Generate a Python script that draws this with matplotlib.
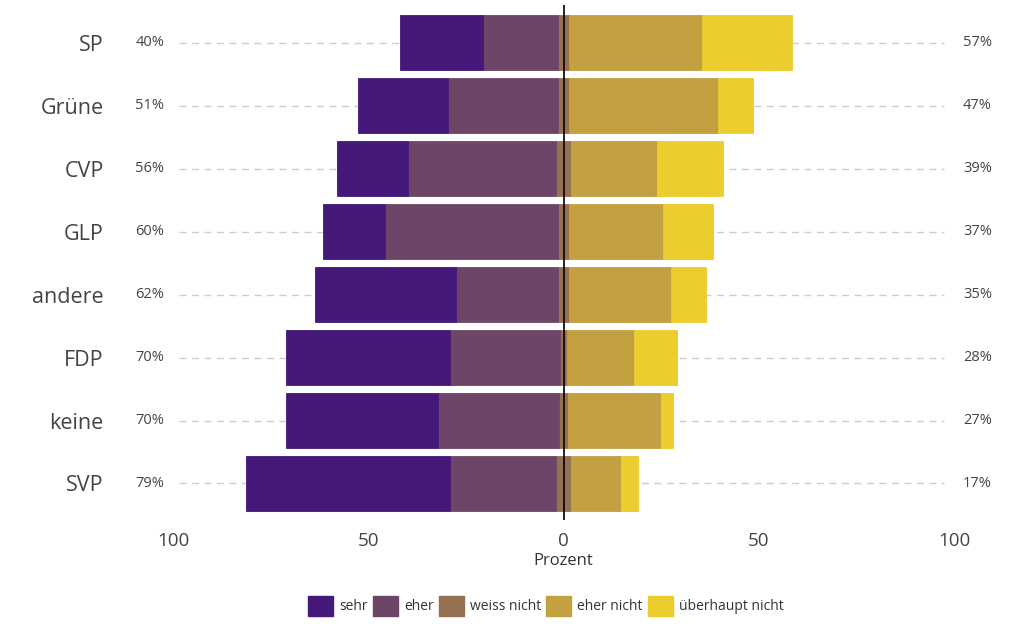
#!/usr/bin/env python3

import numpy as np
import matplotlib
matplotlib.use('Agg')
import matplotlib.pyplot as plt
from matplotlib.patches import Patch

# parties from top to bottom
parties = ['SP', 'Grüne', 'CVP', 'GLP', 'andere', 'FDP', 'keine', 'SVP']
sehr = [21.1, 23.1, 18.2, 15.9, 36.0, 42.0, 39.1, 52.2]
eher = [19.2, 28.2, 37.9, 44.2, 26.2, 28.1, 31.0, 27.1]
weiss_nicht = [2.9, 2.9, 3.9, 2.9, 2.9, 2.0, 2.1, 3.9]
eher_nicht = [34.1, 38.1, 22.1, 24.0, 26.0, 17.0, 23.9, 12.9]
ueberhaupt_nicht = [23.0, 8.9, 16.9, 12.9, 9.0, 11.0, 3.1, 4.2]
left_labels = ['40%', '51%', '56%', '60%', '62%', '70%', '70%', '79%']
right_labels = ['57%', '47%', '39%', '37%', '35%', '28%', '27%', '17%']

cat_names = ['sehr', 'eher', 'weiss nicht', 'eher nicht', 'überhaupt nicht']
colors = ['#44197a', '#6d4667', '#967252', '#c3a141', '#ebcd2f']


def main():
    plt.rcParams['font.family'] = ['Open Sans', 'DejaVu Sans']

    fig = plt.figure(figsize=(10.24, 6.38), dpi=100)
    ax = fig.add_axes([173 / 1024, 1 - 520 / 638, (954 - 173) / 1024, (520 - 5) / 638])

    n = len(parties)
    y = np.arange(n, 0, -1)
    h = 0.88

    s = np.array(sehr)
    e = np.array(eher)
    w = np.array(weiss_nicht)
    en = np.array(eher_nicht)
    un = np.array(ueberhaupt_nicht)

    # weiss nicht is split around zero
    kw = dict(height=h, linewidth=0.6, zorder=3)
    ax.barh(y, -w / 2, left=0, color=colors[2], edgecolor=colors[2], **kw)
    ax.barh(y, w / 2, left=0, color=colors[2], edgecolor=colors[2], **kw)
    ax.barh(y, -e, left=-w / 2, color=colors[1], edgecolor=colors[1], **kw)
    ax.barh(y, -s, left=-w / 2 - e, color=colors[0], edgecolor=colors[0], **kw)
    ax.barh(y, en, left=w / 2, color=colors[3], edgecolor=colors[3], **kw)
    ax.barh(y, un, left=w / 2 + en, color=colors[4], edgecolor=colors[4], **kw)

    ax.axvline(0, color='black', lw=1.2, zorder=4)

    # dashed guide lines between the percent labels
    ax.hlines(y, -98.5, 97.5, color='#cccccc', lw=1, linestyles=(0, (5, 4)), zorder=1)

    for yi, lt, rt in zip(y, left_labels, right_labels):
        ax.text(-106, yi, lt, ha='center', va='center', fontsize=10.5,
                color='#444444', clip_on=False)
        ax.text(106, yi, rt, ha='center', va='center', fontsize=10.5,
                color='#444444', clip_on=False)

    ax.set_xlim(-100, 100)
    ax.set_ylim(0.42, 8.6)
    ax.set_xticks([-100, -50, 0, 50, 100])
    ax.set_xticklabels(['100', '50', '0', '50', '100'])
    ax.set_yticks(y)
    ax.set_yticklabels(parties)
    ax.tick_params(axis='x', length=0, labelsize=13.5, labelcolor='#444444', pad=9)
    ax.tick_params(axis='y', length=0, labelsize=15.5, labelcolor='#444444', pad=50)
    ax.set_xlabel('Prozent', fontsize=12, color='#333333', labelpad=2)
    for sp in ax.spines.values():
        sp.set_visible(False)

    handles = [Patch(facecolor=c, edgecolor=c, label=l) for c, l in zip(colors, cat_names)]
    fig.legend(handles=handles, loc='center', bbox_to_anchor=(546 / 1024, 1 - 606 / 638),
               ncol=5, frameon=False, fontsize=10, handlelength=1.8, handleheight=1.8,
               handletextpad=0.45, columnspacing=0.35, labelcolor='#333333')

    fig.savefig('out.png', dpi=100)


if __name__ == '__main__':
    main()
